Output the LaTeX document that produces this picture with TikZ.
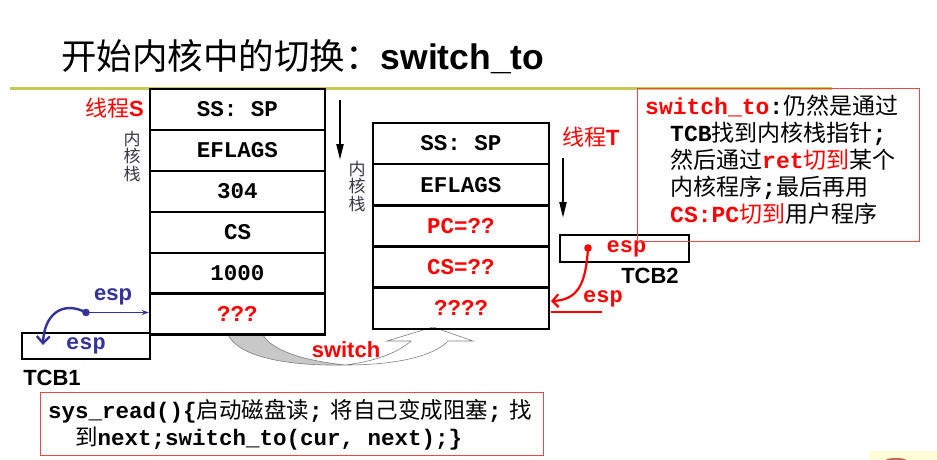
\documentclass[tikz,border=0pt]{standalone}
\usepackage{fontspec}
\setmainfont{Liberation Sans}
\newfontfamily\cjk{Noto Sans CJK SC}
\newfontfamily\mono{Liberation Mono}
\usetikzlibrary{arrows.meta}
\definecolor{tred}{RGB}{255,0,0}
\definecolor{boxred}{RGB}{240,70,70}
\definecolor{tblue}{RGB}{51,51,153}
\definecolor{olivel}{RGB}{200,200,90}
\definecolor{dgray}{RGB}{55,55,70}
\definecolor{sgray}{RGB}{200,200,200}
\newcommand{\Cj}[1]{{\cjk #1}}
\newcommand{\Mo}[1]{{\mono\bfseries #1}}
\tikzset{
  cell/.style={draw, line width=2.4pt, minimum height=41pt, inner sep=0pt,
    font=\mono\bfseries\fontsize{22.5}{24}\selectfont},
  lcell/.style={cell, minimum width=175pt},
  rcell/.style={cell, minimum width=176.5pt},
  tcb/.style={draw, line width=2.4pt, inner sep=0pt, minimum height=26pt,
    font=\mono\bfseries\fontsize{22}{24}\selectfont},
  vlabel/.style={text=dgray, align=center, inner sep=0pt,
    font=\cjk\fontsize{17}{17.7}\selectfont},
  redlab/.style={text=tred, inner sep=0pt, font=\fontsize{22}{24}\selectfont},
  tcblab/.style={inner sep=0pt, font=\bfseries\fontsize{22}{24}\selectfont},
  growarrow/.style={line width=2.2pt, -{Triangle[length=16pt,width=7pt]}},
  txt/.style={anchor=base west, inner sep=0pt, font=\fontsize{23}{27}\selectfont},
  btxt/.style={anchor=base west, inner sep=0pt, font=\fontsize{22.5}{27}\selectfont},
}
\begin{document}
\begin{tikzpicture}[x=1pt,y=-1pt]
\useasboundingbox (0,0) rectangle (937,460);
\fill[white] (0,0) rectangle (937,460);

% title
\node[anchor=west, inner sep=0pt] (title) at (61,57)
  {\fontsize{35.5}{40}\selectfont\Cj{开始内核中的切换：}{\bfseries switch\_to}};
\draw[olivel, line width=3pt] (10,88) -- (832,88);

% switch arrow (behind stacks)
\fill[sgray, draw=gray, line width=0.6pt]
  (228,335) .. controls (240,358) and (290,366) .. (345,365)
  .. controls (300,360) and (272,350) .. (263,335) -- cycle;
\filldraw[fill=white, draw=gray, line width=0.6pt]
  (345,365) .. controls (400,365) and (435,355) .. (448,341) -- (473,341)
  -- (433,327) -- (387,341) -- (411,341)
  .. controls (395,355) and (370,362) .. (345,365) -- cycle;

% left stack (thread S)
\node[lcell] (s1) at (237.5,109.5) {SS: SP};
\node[lcell] (s2) at (237.5,150.5) {EFLAGS};
\node[lcell] (s3) at (237.5,191.5) {304};
\node[lcell] (s4) at (237.5,232.5) {CS};
\node[lcell] (s5) at (237.5,273.5) {1000};
\node[lcell, text=tred] (s6) at (237.5,314) {???};

% right stack (thread T)
\node[rcell] (t1) at (461,143.5) {SS: SP};
\node[rcell] (t2) at (461,184.7) {EFLAGS};
\node[rcell, text=tred] (t3) at (461,225.9) {PC=??};
\node[rcell, text=tred] (t4) at (461,267.1) {CS=??};
\node[rcell, text=tred] (t5) at (461,308.3) {????};

% labels
\node[redlab, anchor=east] (ls) at (144,108) {\Cj{线程}\bfseries S};
\node[vlabel] (kl) at (132,156.5) {内\\核\\栈};
\coordinate (aS1) at (340,100);
\coordinate (aS2) at (340,160);
\draw[growarrow] (aS1) -- (aS2);
\node[vlabel] (kr) at (357,186.5) {内\\核\\栈};

\node[redlab, anchor=west] (lt) at (562,137) {\Cj{线程}\bfseries T};
\coordinate (aT1) at (563,158);
\coordinate (aT2) at (563,218);
\draw[growarrow] (aT1) -- (aT2);

% TCB2
\node[tcb, minimum width=129pt, minimum height=27pt, text=tred] (tcb2) at (624.5,248.5) {\hspace{4pt}esp};
\node[tcblab] (tcb2l) at (650,276) {TCB2};
\coordinate (d2) at (588,248);
\fill[tred] (d2) circle (3.8pt);
\coordinate (t5e) at (551,301);
\coordinate (t5e2) at (551,311.5);
\coordinate (e2) at (602,311.5);
\draw[tred, line width=2.2pt, -{Straight Barb[length=6pt,width=13pt]}]
  (d2) .. controls (586,280) and (580,300) .. (t5e);
\draw[tred, line width=2pt] (e2) -- (t5e2);
\node[redlab, font=\mono\bfseries\fontsize{22}{24}\selectfont] (esp2) at (603,299) {esp};

% TCB1
\node[tcb, minimum width=128pt, text=tblue] (tcb1) at (86,346) {esp};
\node[tcblab] (tcb1l) at (52,378) {TCB1};
\coordinate (d1) at (86,312.5);
\fill[tblue] (d1) circle (3.8pt);
\draw[tblue, line width=1.6pt, -{Stealth[length=7pt,width=5pt]}] (d1) -- (s6.west |- d1);
\coordinate (b1) at (43,345);
\draw[tblue, line width=2.4pt, -{Straight Barb[length=7pt,width=13pt]}]
  (d1) .. controls (62,300) and (44,315) .. (b1);
\node[text=tblue, inner sep=0pt, font=\bfseries\fontsize{22}{24}\selectfont] (esp1) at (113,297) {esp};

% switch label
\node[inner sep=0pt, text=tred, font=\bfseries\fontsize{22}{24}\selectfont] (sw) at (346,350) {switch};

% right explanation box
\node[draw=boxred, line width=0.9pt, minimum width=282pt, minimum height=153pt, inner sep=0pt] (rbox) at (778,164.5) {};
\node[txt] (r1) at (645,114) {\Mo{\color{tred}switch\_to}\Mo{:}\Cj{仍然是通过}};
\node[txt] (r2) at (670,141) {\Mo{TCB}\Cj{找到内核栈指针}\Mo{;}};
\node[txt] (r3) at (670,168) {\Cj{然后通过}{\color{tred}\Mo{ret}\Cj{切到}}\Cj{某个}};
\node[txt] (r4) at (670,195) {\Cj{内核程序}\Mo{;}\Cj{最后再用}};
\node[txt] (r5) at (670,222) {{\color{tred}\Mo{CS:PC}\Cj{切到}}\Cj{用户程序}};

% bottom box
\node[draw=boxred, line width=0.9pt, minimum width=503pt, minimum height=63pt, inner sep=0pt] (bbox) at (291.5,423.5) {};
\node[btxt] (b1t) at (48,418) {\Mo{sys\_read()\{}\Cj{启动磁盘读}\Mo{;}\hspace{8pt}\Cj{将自己变成阻塞}\Mo{;}\hspace{8pt}\Cj{找}};
\node[btxt] (b2t) at (75,445) {\Cj{到}\Mo{next;switch\_to(cur, next);\}}};

% corner logo fragment
\fill[yellow!15] (869,451) rectangle (937,460);
\fill[red!60!black, opacity=0.6] (896,460) ellipse (10pt and 2pt);
\end{tikzpicture}
\end{document}
